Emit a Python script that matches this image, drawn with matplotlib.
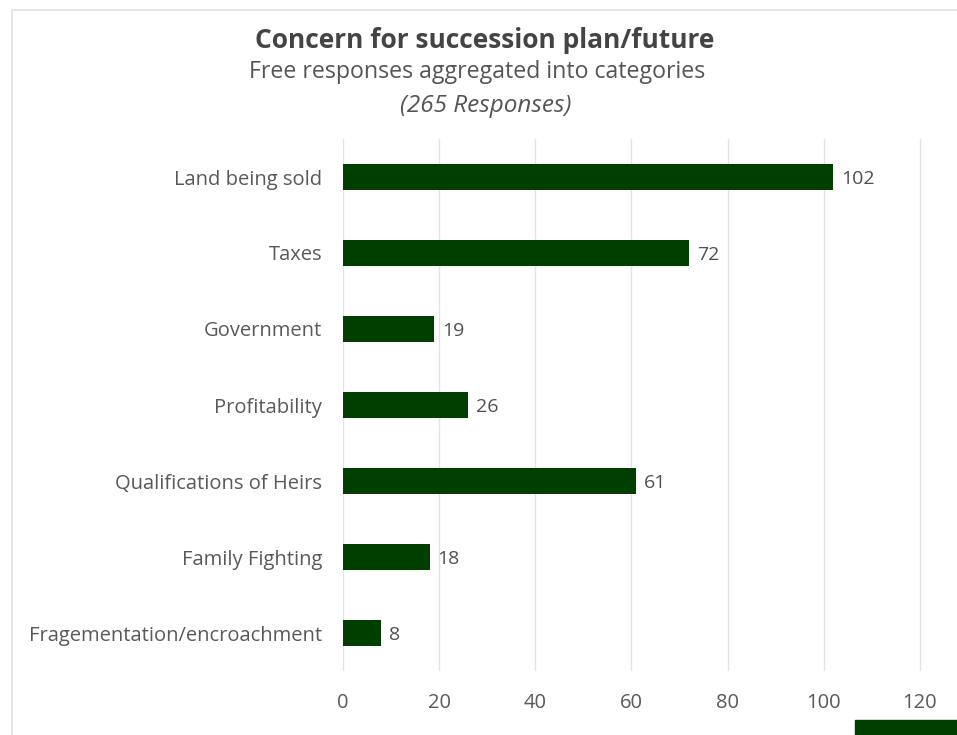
import matplotlib
matplotlib.use('Agg')
import matplotlib.pyplot as plt
from matplotlib.patches import Rectangle

categories = ['Land being sold', 'Taxes', 'Government', 'Profitability',
              'Qualifications of Heirs', 'Family Fighting', 'Fragementation/encroachment']
counts = [102, 72, 19, 26, 61, 18, 8]
xticks = [0, 20, 40, 60, 80, 100, 120]

plt.rcParams['font.family'] = ['Open Sans', 'DejaVu Sans']

W, H = 957, 735
fig = plt.figure(figsize=(W / 100, H / 100), dpi=100)

# faint frame of the original card
fig.patches.append(Rectangle((12 / W, -0.1), 1.2, 1 - 10 / H + 0.1,
                             transform=fig.transFigure, fill=False,
                             edgecolor='#e6e6e6', linewidth=1.5))

ax = fig.add_axes([343 / W, 1 - 671 / H, (125 * 4.808) / W, (671 - 139) / H])
ypos = range(len(categories))
ax.barh(ypos, counts, height=0.34, color='#003f00', zorder=3)
for y, v in zip(ypos, counts):
    ax.text(v + 1.6, y + 0.03, str(v), va='center', ha='left', fontsize=14, color='#505050')

ax.set_xlim(0, 125)
ax.set_ylim(len(categories) - 0.5, -0.5)
ax.set_xticks(xticks)
ax.set_xticklabels([str(t) for t in xticks])
ax.set_yticks(list(ypos))
ax.set_yticklabels(categories)
ax.tick_params(axis='both', length=0, labelsize=14.5, labelcolor='#595959')
ax.tick_params(axis='y', pad=15)
ax.tick_params(axis='x', pad=16)
ax.grid(axis='x', color='#e3e3e3', linewidth=1, zorder=0)
for s in ax.spines.values():
    s.set_visible(False)

fig.text(485 / W, 1 - 40 / H, 'Concern for succession plan/future', ha='center', va='center',
         fontsize=19, fontweight='bold', color='#444444')
fig.text(477 / W, 1 - 72 / H, 'Free responses aggregated into categories', ha='center', va='center',
         fontsize=16.7, color='#555555')
fig.text(486 / W, 1 - 106 / H, '(265 Responses)', ha='center', va='center',
         fontsize=17.5, style='italic', color='#555555')

# dark block cut off at the bottom right corner
fig.patches.append(Rectangle((855 / W, 0), 102 / W, 15 / H, transform=fig.transFigure,
                             color='#003f00'))

fig.savefig('out.png', dpi=100, facecolor='white')
